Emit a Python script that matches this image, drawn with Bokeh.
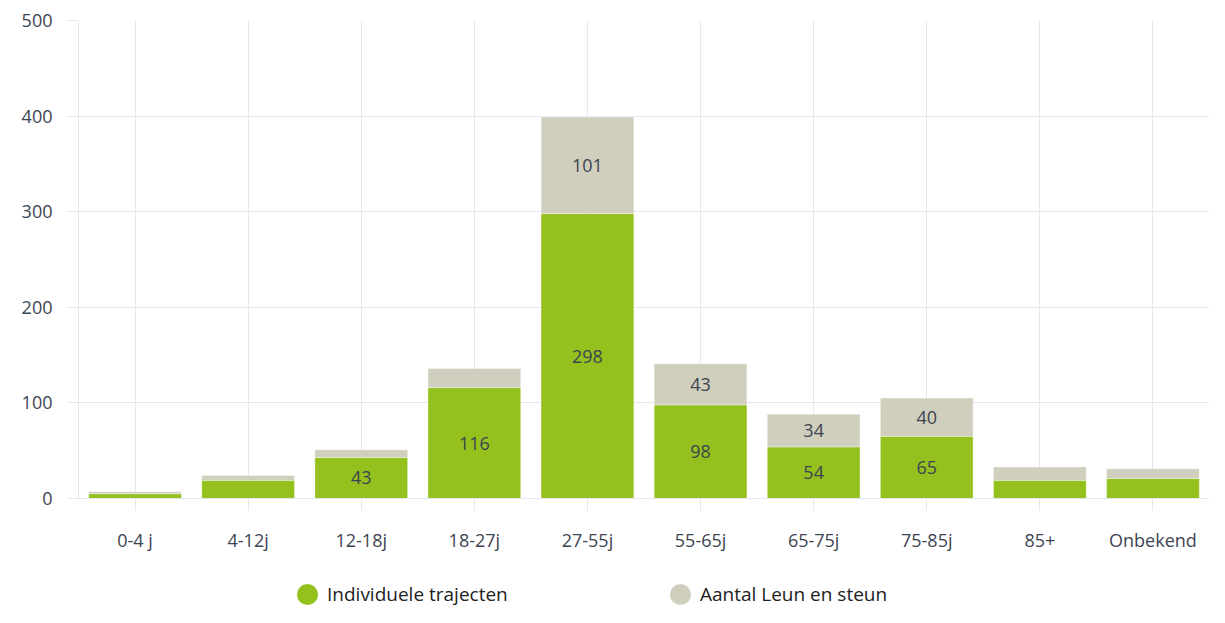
from bokeh.plotting import figure
from bokeh.layouts import column
from bokeh.models import ColumnDataSource, FactorRange, Range1d, FixedTicker, Legend, LegendItem
from bokeh.core.properties import value
from bokeh.embed import file_html
from bokeh.resources import INLINE

categories = ["0-4 j", "4-12j", "12-18j", "18-27j", "27-55j", "55-65j", "65-75j", "75-85j", "85+", "Onbekend"]
individuele = [5, 19, 43, 116, 298, 98, 54, 65, 19, 21]
leun_steun = [2, 5, 8, 20, 101, 43, 34, 40, 14, 10]
y_ticks = [0, 100, 200, 300, 400, 500]
series_names = ["Individuele trajecten", "Aantal Leun en steun"]

GREEN = "#95c11f"
GREY = "#d0cfbd"
GRID = "#e6e6f0"
TEXT = "#3d4452"
FONT = "Open Sans"
W = 1209

src = ColumnDataSource(dict(cat=categories, ind=individuele, leun=leun_steun))

p = figure(x_range=FactorRange(*categories, range_padding=0), y_range=Range1d(0, 500),
           width=W, height=557, output_backend="svg", toolbar_location=None,
           min_border_left=78, min_border_right=0, min_border_top=20, min_border_bottom=59)

p.vbar_stack(["ind", "leun"], x="cat", width=0.82, color=[GREEN, GREY],
             line_color="white", line_alpha=0.35, line_width=1, source=src)

# data labels
lx, ly, lt = [], [], []
for c, a, b in zip(categories, individuele, leun_steun):
    if a >= 30:
        lx.append(c); ly.append(a / 2); lt.append(str(a))
    if b >= 30:
        lx.append(c); ly.append(a + b / 2); lt.append(str(b))
p.text(x="x", y="y", text="t", source=ColumnDataSource(dict(x=lx, y=ly, t=lt)),
       text_align="center", text_baseline="middle", text_font=value(FONT),
       text_font_size="18px", text_color=TEXT)

# axes
p.yaxis.ticker = FixedTicker(ticks=y_ticks)
p.yaxis.axis_line_color = GRID
p.yaxis.major_tick_line_color = GRID
p.yaxis.major_tick_out = 11
p.yaxis.major_tick_in = 0
p.yaxis.minor_tick_line_color = None
p.yaxis.major_label_standoff = 15
p.xaxis.axis_line_color = GRID
p.xaxis.major_tick_line_color = GRID
p.xaxis.major_tick_out = 12
p.xaxis.major_tick_in = 0
p.xaxis.major_label_standoff = 17
for ax in (p.xaxis, p.yaxis):
    ax.major_label_text_font = FONT
    ax.major_label_text_font_size = "18px"
    ax.major_label_text_color = TEXT
p.xgrid.grid_line_color = GRID
p.ygrid.grid_line_color = GRID
p.outline_line_color = None

# legend strip (separate figure so the legend is not clipped)
lg = figure(width=W, height=50, output_backend="svg", toolbar_location=None,
            x_axis_location=None, y_axis_location=None,
            x_range=Range1d(0, 1), y_range=Range1d(0, 1),
            min_border_left=0, min_border_right=0, min_border_top=0, min_border_bottom=0)
lg.grid.visible = False
lg.outline_line_color = None
proxy = ColumnDataSource(dict(x=[0.5], y=[float("nan")]))
r1 = lg.scatter(x="x", y="y", source=proxy, marker="circle",
                fill_color=GREEN, line_color=GREEN, line_width=11.5)
r2 = lg.scatter(x="x", y="y", source=proxy, marker="circle",
                fill_color=GREY, line_color=GREY, line_width=11.5)
legend = Legend(items=[LegendItem(label=series_names[0], renderers=[r1]),
                       LegendItem(label=series_names[1], renderers=[r2])],
                orientation="horizontal", location=(217, 0),
                glyph_width=24, glyph_height=24, label_standoff=8, label_width=300,
                spacing=41, padding=0, margin=0, border_line_color=None,
                background_fill_alpha=0, label_text_font=FONT,
                label_text_font_size="19px", label_text_color="#222222")
lg.add_layout(legend, "center")

layout = column(p, lg, spacing=0)
open("out.html", "w").write(file_html(layout, INLINE))
